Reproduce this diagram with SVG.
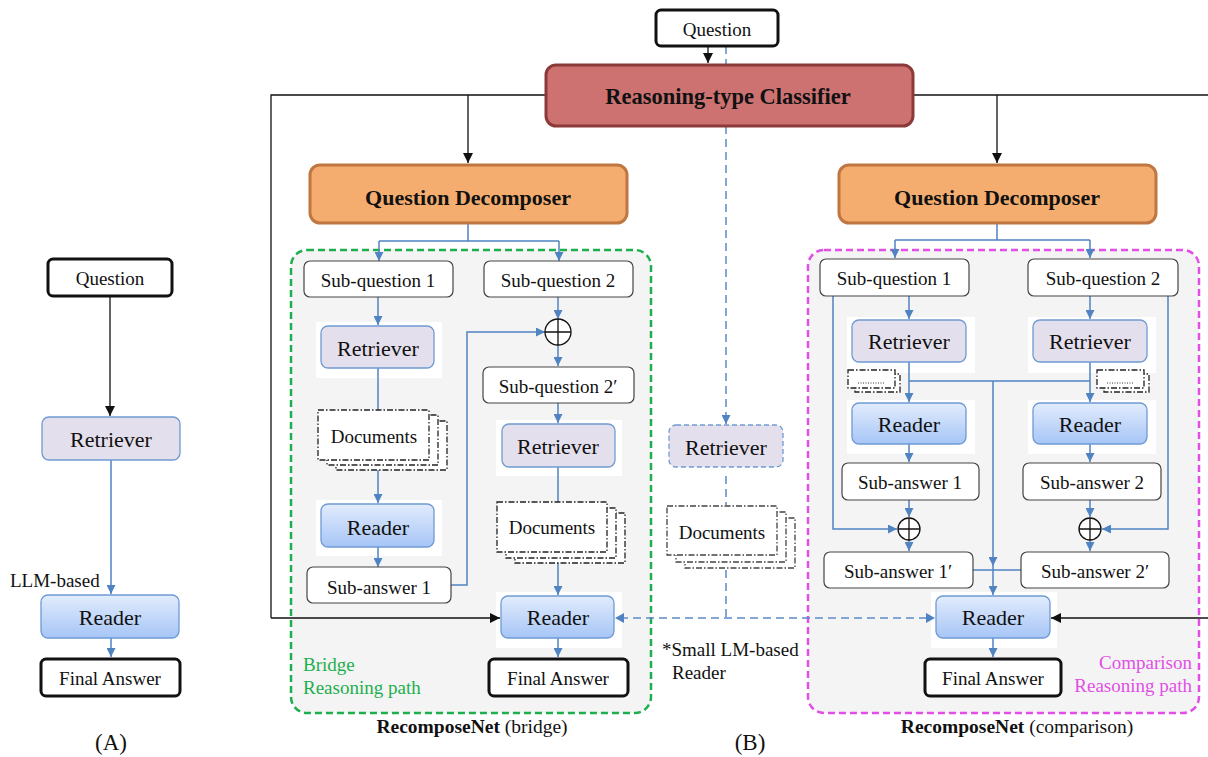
<svg xmlns="http://www.w3.org/2000/svg" width="1208" height="757" viewBox="0 0 1208 757">
<style>
text{font-family:"Liberation Serif","Times New Roman",serif;fill:#111;text-anchor:middle;dominant-baseline:central}
.t19{font-size:19px}
.t22{font-size:22px}
.tb{font-size:22px;font-weight:bold}
.term{fill:#fff;stroke:#111;stroke-width:3}
.box{fill:#fff;stroke:#444;stroke-width:1.2}
.ret{fill:#E4DFEC;stroke:#6F9AD2;stroke-width:1.3}
.rdr{fill:url(#rg);stroke:#6F9AD2;stroke-width:1.3}
.bg{fill:#fff;stroke:none}
.doc{fill:#fff;stroke:#222;stroke-width:1.3;stroke-dasharray:6 2 1.5 2}
.blue{fill:none;stroke:#5083C2;stroke-width:1.5}
.blk{fill:none;stroke:#111;stroke-width:1.3}
.dash{fill:none;stroke:#5B8BC9;stroke-width:1.5;stroke-dasharray:8 5}
.ba{marker-end:url(#ab)}
.ka{marker-end:url(#ak)}
.oplus{fill:#fff;stroke:#111;stroke-width:1.3}
.cap{font-size:19.5px}
</style>
<defs>
<linearGradient id="rg" x1="0" y1="0" x2="0" y2="1">
<stop offset="0" stop-color="#E2ECFD"/>
<stop offset="1" stop-color="#A6C5F6"/>
</linearGradient>
<marker id="ab" viewBox="0 0 10 10" refX="10" refY="5" markerWidth="9" markerHeight="9" markerUnits="userSpaceOnUse" orient="auto-start-reverse">
<path d="M0,0 L10,5 L0,10 z" fill="#5083C2"/>
</marker>
<marker id="ak" viewBox="0 0 10 10" refX="10" refY="5" markerWidth="10" markerHeight="10" markerUnits="userSpaceOnUse" orient="auto">
<path d="M0,0 L10,5 L0,10 z" fill="#111"/>
</marker>
</defs>
<rect width="1208" height="757" fill="#fff"/>

<g id="container-bridge">
<rect x="291" y="250" width="360" height="463" rx="16" fill="#F4F4F4" stroke="#1DAF4E" stroke-width="2.5" stroke-dasharray="7 4"/>
<text x="303" y="664" style="text-anchor:start;fill:#1DAF4E" class="t19">Bridge</text>
<text x="303" y="687" style="text-anchor:start;fill:#1DAF4E" class="t19">Reasoning path</text>
</g>
<g id="container-comparison">
<rect x="808" y="250" width="391" height="463" rx="16" fill="#F4F4F4" stroke="#E24EE6" stroke-width="2.5" stroke-dasharray="7 4"/>
<text x="1192" y="662" style="text-anchor:end;fill:#E24EE6" class="t19">Comparison</text>
<text x="1192" y="685" style="text-anchor:end;fill:#E24EE6" class="t19">Reasoning path</text>
</g>

<g id="backgrounds">
<rect class="bg" x="316" y="322" width="126" height="56"/>
<rect class="bg" x="316" y="500" width="126" height="56"/>
<rect class="bg" x="496" y="420" width="126" height="56"/>
<rect class="bg" x="496" y="592" width="126" height="56"/>
<rect class="bg" x="847" y="317" width="128" height="56"/>
<rect class="bg" x="1028" y="317" width="128" height="56"/>
<rect class="bg" x="847" y="400" width="128" height="54"/>
<rect class="bg" x="1028" y="400" width="128" height="54"/>
<rect class="bg" x="931" y="592" width="126" height="56"/>
</g>

<g id="connectors">
<path class="blk ka" d="M110,296 V416"/>
<path class="blue ba" d="M111,460 V594"/>
<path class="blue ba" d="M111,638 V657"/>
<path class="blk ka" d="M708,46 V63"/>
<path class="blk" d="M545,95 H271 V618"/>
<path class="blk ka" d="M271,618 H500"/>
<path class="blk ka" d="M468,95 V163"/>
<path class="blk" d="M913,95 H1212"/>
<path class="blk ka" d="M997,95 V163"/>
<path class="blk ka" d="M1212,618 H1051"/>
<path class="dash" d="M726,46 V64"/>
<path class="dash" d="M726,126 V420"/>
<path class="blue ba" d="M726,416 V424"/>
<path class="dash" d="M726,476 V505"/>
<path class="dash" d="M726,570 V618"/>
<path class="dash" d="M620,618 H930"/>
<path d="M624,613 L615,618 L624,623 z" fill="#5083C2"/>
<path d="M926,613 L935,618 L926,623 z" fill="#5083C2"/>
<path class="blue" d="M468,223 V241 M379,241 H559"/>
<path class="blue ba" d="M379,241 V261"/>
<path class="blue ba" d="M559,241 V261"/>
<path class="blue ba" d="M378,297 V325"/>
<path class="blue" d="M378,368 V410"/>
<path class="blue ba" d="M378,470 V503"/>
<path class="blue ba" d="M378,547 V567"/>
<path class="blue ba" d="M451,585 H467 V332 H545"/>
<path class="blue ba" d="M558,297 V319"/>
<path class="blue ba" d="M558,345 V366"/>
<path class="blue ba" d="M558,403 V423"/>
<path class="blue" d="M558,467 V502"/>
<path class="blue ba" d="M558,563 V595"/>
<path class="blue ba" d="M558,638 V657"/>
<path class="blue" d="M997,223 V240 M895,240 H1090"/>
<path class="blue ba" d="M895,240 V258"/>
<path class="blue ba" d="M1090,240 V258"/>
<path class="blue ba" d="M909,296 V319"/>
<path class="blue ba" d="M1090,296 V319"/>
<path class="blue ba" d="M909,362 V402"/>
<path class="blue ba" d="M1090,362 V402"/>
<path class="blue" d="M909,381 H1090"/>
<path class="blue ba" d="M993,381 V566"/>
<path class="blue" d="M973,570 H1021"/>
<path class="blue ba" d="M993,566 V595"/>
<path class="blue ba" d="M909,444 V462"/>
<path class="blue ba" d="M1090,444 V462"/>
<path class="blue ba" d="M909,500 V517"/>
<path class="blue ba" d="M1090,500 V517"/>
<path class="blue ba" d="M909,540 V551"/>
<path class="blue ba" d="M1090,540 V551"/>
<path class="blue ba" d="M833,296 V529 H897"/>
<path class="blue ba" d="M1168,296 V529 H1102"/>
<path class="blue ba" d="M993,638 V657"/>
</g>

<g id="a-question"><rect class="term" x="48" y="259" width="124" height="37" rx="5"/><text class="t19" x="110" y="278">Question</text></g>
<g id="a-retriever"><rect class="ret" x="42" y="417" width="138" height="43" rx="7"/><text class="t22" x="111" y="439">Retriever</text></g>
<g id="a-llm-label"><text class="t19" x="10" y="580" style="text-anchor:start">LLM-based</text></g>
<g id="a-reader"><rect class="rdr" x="41" y="595" width="138" height="43" rx="7"/><text class="t22" x="110" y="617">Reader</text></g>
<g id="a-final"><rect class="term" x="41" y="659" width="139" height="37" rx="5"/><text class="t19" x="110" y="678">Final Answer</text></g>
<g id="label-a"><text x="111" y="742" style="font-size:23px">(A)</text></g>

<g id="question"><rect class="term" x="656" y="10" width="122" height="36" rx="5"/><text class="t19" x="717" y="29">Question</text></g>
<g id="classifier"><rect x="546" y="65" width="367" height="61" rx="10" fill="#CD7271" stroke="#8C3A39" stroke-width="3"/><text class="tb" x="728" y="96" style="font-size:22.5px">Reasoning-type Classifier</text></g>
<g id="decomposer-bridge"><rect x="310" y="165" width="317" height="58" rx="10" fill="#F5AD6F" stroke="#BF7640" stroke-width="3"/><text class="tb" x="468" y="197">Question Decomposer</text></g>
<g id="decomposer-comparison"><rect x="839" y="165" width="317" height="58" rx="10" fill="#F5AD6F" stroke="#BF7640" stroke-width="3"/><text class="tb" x="997" y="197">Question Decomposer</text></g>

<g id="b-subq1"><rect class="box" x="304" y="261" width="149" height="36" rx="6"/><text class="t19" x="378" y="280">Sub-question 1</text></g>
<g id="b-subq2"><rect class="box" x="484" y="261" width="149" height="36" rx="6"/><text class="t19" x="558" y="280">Sub-question 2</text></g>
<g id="b-retriever1"><rect class="ret" x="321" y="326" width="113" height="42" rx="7"/><text class="t22" x="378" y="348">Retriever</text></g>
<g id="b-docs1">
<rect class="doc" x="336" y="421" width="111" height="49"/>
<rect class="doc" x="327" y="415" width="111" height="50"/>
<rect class="doc" x="318" y="410" width="111" height="50"/>
<text class="t19" x="374" y="436">Documents</text></g>
<g id="b-reader1"><rect class="rdr" x="321" y="504" width="113" height="43" rx="7"/><text class="t22" x="378" y="527">Reader</text></g>
<g id="b-suba1"><rect class="box" x="307" y="567" width="144" height="36" rx="6"/><text class="t19" x="379" y="587">Sub-answer 1</text></g>
<g id="b-plus"><circle class="oplus" cx="558" cy="332" r="13"/><path d="M545,332 H571 M558,319 V345" stroke="#111" stroke-width="1.3"/></g>
<g id="b-subq2p"><rect class="box" x="483" y="367" width="151" height="36" rx="6"/><text class="t19" x="558" y="386">Sub-question 2′</text></g>
<g id="b-retriever2"><rect class="ret" x="502" y="424" width="113" height="43" rx="7"/><text class="t22" x="558" y="446">Retriever</text></g>
<g id="b-docs2">
<rect class="doc" x="515" y="513" width="110" height="50"/>
<rect class="doc" x="506" y="508" width="110" height="50"/>
<rect class="doc" x="497" y="502" width="110" height="50"/>
<text class="t19" x="552" y="527">Documents</text></g>
<g id="b-reader2"><rect class="rdr" x="501" y="596" width="113" height="42" rx="7"/><text class="t22" x="558" y="617">Reader</text></g>
<g id="b-final"><rect class="term" x="489" y="659" width="139" height="37" rx="5"/><text class="t19" x="558" y="678">Final Answer</text></g>
<g id="b-caption"><text class="cap" x="472" y="726"><tspan font-weight="bold">RecomposeNet</tspan> (bridge)</text></g>

<g id="m-retriever"><rect x="669" y="425" width="114" height="42" rx="7" fill="#E4DFEC" stroke="#6F9AD2" stroke-width="1.3" stroke-dasharray="5 3"/><text class="t22" x="726" y="447">Retriever</text></g>
<g id="m-docs">
<rect class="doc" x="685" y="518" width="110" height="50" style="stroke:#444"/>
<rect class="doc" x="676" y="512" width="110" height="50" style="stroke:#444"/>
<rect class="doc" x="667" y="506" width="110" height="49" style="stroke:#444"/>
<text class="t19" x="722" y="532">Documents</text></g>
<g id="m-note"><text class="t19" x="662" y="649" style="text-anchor:start">*Small LM-based</text><text class="t19" x="672" y="672" style="text-anchor:start">Reader</text></g>
<g id="label-b"><text x="750" y="742" style="font-size:23px">(B)</text></g>

<g id="c-subq1"><rect class="box" x="820" y="259" width="149" height="37" rx="6"/><text class="t19" x="894" y="278">Sub-question 1</text></g>
<g id="c-subq2"><rect class="box" x="1028" y="259" width="150" height="37" rx="6"/><text class="t19" x="1103" y="278">Sub-question 2</text></g>
<g id="c-retriever1"><rect class="ret" x="852" y="320" width="114" height="42" rx="7"/><text class="t22" x="909" y="341">Retriever</text></g>
<g id="c-retriever2"><rect class="ret" x="1033" y="320" width="114" height="42" rx="7"/><text class="t22" x="1090" y="341">Retriever</text></g>
<g id="c-docs1">
<rect class="doc" x="855" y="374" width="45" height="18"/>
<rect class="doc" x="848" y="370" width="47" height="18"/>
<path d="M858,383 H884" stroke="#333" stroke-width="1" stroke-dasharray="1 1.5"/></g>
<g id="c-docs2">
<rect class="doc" x="1104" y="374" width="45" height="18"/>
<rect class="doc" x="1097" y="370" width="47" height="18"/>
<path d="M1107,383 H1133" stroke="#333" stroke-width="1" stroke-dasharray="1 1.5"/></g>
<g id="c-reader1"><rect class="rdr" x="852" y="403" width="114" height="41" rx="7"/><text class="t22" x="909" y="424">Reader</text></g>
<g id="c-reader2"><rect class="rdr" x="1033" y="403" width="114" height="41" rx="7"/><text class="t22" x="1090" y="424">Reader</text></g>
<g id="c-suba1"><rect class="box" x="842" y="463" width="137" height="37" rx="6"/><text class="t19" x="910" y="482">Sub-answer 1</text></g>
<g id="c-suba2"><rect class="box" x="1023" y="463" width="138" height="37" rx="6"/><text class="t19" x="1092" y="482">Sub-answer 2</text></g>
<g id="c-plus1"><circle class="oplus" cx="909" cy="529" r="11"/><path d="M898,529 H920 M909,518 V540" stroke="#111" stroke-width="1.3"/></g>
<g id="c-plus2"><circle class="oplus" cx="1090" cy="529" r="11"/><path d="M1079,529 H1101 M1090,518 V540" stroke="#111" stroke-width="1.3"/></g>
<g id="c-suba1p"><rect class="box" x="824" y="552" width="149" height="36" rx="6"/><text class="t19" x="898" y="571">Sub-answer 1′</text></g>
<g id="c-suba2p"><rect class="box" x="1021" y="552" width="148" height="36" rx="6"/><text class="t19" x="1095" y="571">Sub-answer 2′</text></g>
<g id="c-reader3"><rect class="rdr" x="936" y="596" width="114" height="42" rx="7"/><text class="t22" x="993" y="617">Reader</text></g>
<g id="c-final"><rect class="term" x="925" y="659" width="136" height="37" rx="5"/><text class="t19" x="993" y="678">Final Answer</text></g>
<g id="c-caption"><text class="cap" x="1017" y="726"><tspan font-weight="bold">RecomposeNet</tspan> (comparison)</text></g>
</svg>
